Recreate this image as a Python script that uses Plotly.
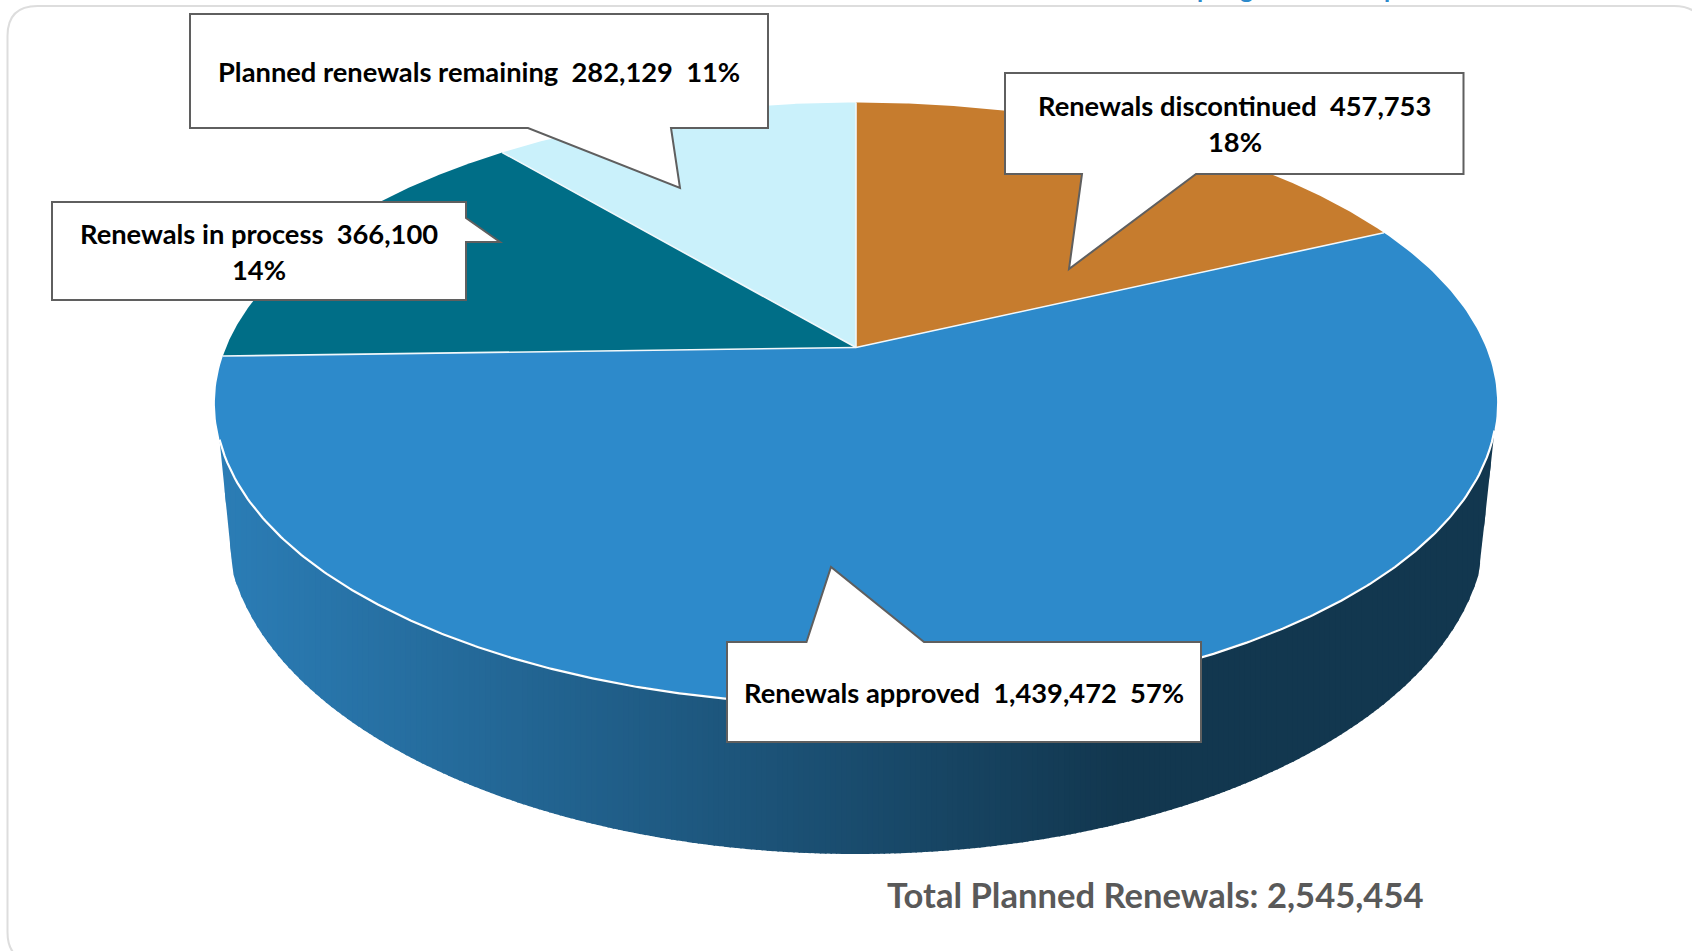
import numpy as np
import plotly.graph_objects as go

categories = ["Renewals discontinued", "Renewals approved", "Renewals in process", "Planned renewals remaining"]
values = [457753, 1439472, 366100, 282129]
percents = [18, 57, 14, 11]
colors = ["#C67C2E", "#2D8ACB", "#006E87", "#CAF1FB"]
total_label = "Total Planned Renewals: 2,545,454"
clipped_heading_letters = ["p", "g", "p"]   # only the descenders of the cut-off heading show

W, H = 1692, 951
CX, CY = 856.0, 347.5     # pie centre on the page
A, B, P = 630.0, 290.4, 0.1854  # perspective projection of the pie disc
ELL_CY, ELL_RX, ELL_RY = 404.0, 641.0, 301.0
BOT_CY, BOT_RX, BOT_RY = 524.0, 630.0, 330.0
WALL_L, WALL_R = 219.5, 1494.5
KNEE_L, KNEE_R = 233.0, 1479.0
WALL_LIGHT = np.array([43, 125, 182])
WALL_DARK = np.array([18, 55, 79])
GRAD_END = 1120.0
FONT = "Lato"
INK = "#5F5F5F"

def project(theta):
    d = 1 + P * np.cos(theta)
    return CX + A * np.sin(theta) / d, CY - B * np.cos(theta) / d

def top_lower(x):
    t = np.clip((x - CX) / ELL_RX, -1, 1)
    return ELL_CY + ELL_RY * np.sqrt(1 - t ** 2)

def wall_lower(x):
    x = np.asarray(x, float)
    t = np.clip((x - CX) / BOT_RX, -1, 1)
    y = BOT_CY + BOT_RY * np.sqrt(1 - t ** 2)
    yl = BOT_CY + BOT_RY * np.sqrt(1 - ((KNEE_L - CX) / BOT_RX) ** 2)
    yr = BOT_CY + BOT_RY * np.sqrt(1 - ((KNEE_R - CX) / BOT_RX) ** 2)
    y = np.where(x < KNEE_L, top_lower(WALL_L) + (yl - top_lower(WALL_L)) * (x - WALL_L) / (KNEE_L - WALL_L), y)
    y = np.where(x > KNEE_R, top_lower(WALL_R) + (yr - top_lower(WALL_R)) * (WALL_R - x) / (WALL_R - KNEE_R), y)
    return y

fig = go.Figure()

# side wall: thin vertical strips carry the horizontal gradient
edges = np.linspace(WALL_L, WALL_R, 241)
for x0, x1 in zip(edges[:-1], edges[1:]):
    xe = min(x1 + 1.5, WALL_R)
    xs = np.linspace(x0, xe, 5)
    t = np.clip(((x0 + x1) / 2 - WALL_L) / (GRAD_END - WALL_L), 0, 1)
    c = (WALL_LIGHT + (WALL_DARK - WALL_LIGHT) * t).round().astype(int)
    fig.add_trace(go.Scatter(
        x=np.r_[xs, xs[::-1]],
        y=np.r_[top_lower(xs) - 2, wall_lower(xs)[::-1]],
        mode="lines", fill="toself", line=dict(width=0),
        fillcolor=f"rgb({c[0]},{c[1]},{c[2]})",
        hoverinfo="skip", showlegend=False))

# top face: one wedge per category, sized by its value
fractions = np.cumsum([0] + values) / np.sum(values)
for i, cat in enumerate(categories):
    th = 2 * np.pi * np.linspace(fractions[i], fractions[i + 1], 240)
    px, py = project(th)
    fig.add_trace(go.Scatter(
        x=np.r_[CX, px, CX], y=np.r_[CY, py, CY],
        mode="lines", fill="toself", fillcolor=colors[i],
        line=dict(color=colors[i], width=0),
        name=cat, text=f"{cat}: {values[i]:,}", hoverinfo="text", showlegend=False))

# white spokes between the wedges
for f in fractions[:-1]:
    px, py = project(2 * np.pi * f)
    fig.add_trace(go.Scatter(x=[CX, px], y=[CY, py], mode="lines",
                             line=dict(color="#F2F8FB", width=1.6),
                             hoverinfo="skip", showlegend=False))

# white rim where the face meets the wall
rx = np.linspace(WALL_L, WALL_R, 500)
fig.add_trace(go.Scatter(x=rx, y=top_lower(rx), mode="lines",
                         line=dict(color="white", width=2.2),
                         hoverinfo="skip", showlegend=False))

def callout(pts):
    return "M " + " L ".join(f"{x},{y}" for x, y in pts) + " Z"

callouts = [
    [(190, 14), (768, 14), (768, 128), (671, 128), (680, 188), (528, 128), (190, 128)],
    [(52, 202), (466, 202), (466, 218), (500, 242), (466, 242), (466, 300), (52, 300)],
    [(1005, 73), (1463.5, 73), (1463.5, 174), (1196, 174), (1069, 269), (1082, 174), (1005, 174)],
    [(727, 642), (806.5, 642), (831, 567), (924, 642), (1201, 642), (1201, 742), (727, 742)],
]
shapes = [dict(type="path", path=callout(p), xref="x", yref="y", fillcolor="white",
               line=dict(color=INK, width=2), layer="above") for p in callouts]

# rounded card outline, partly running off the page
L, T, R, Bo, r = 7.5, 6, 1704, 962, 30
shapes.append(dict(type="path", xref="x", yref="y", layer="below",
                   path=f"M {L + r},{T} L {R - r},{T} Q {R},{T} {R},{T + r} L {R},{Bo - r} "
                        f"Q {R},{Bo} {R - r},{Bo} L {L + r},{Bo} Q {L},{Bo} {L},{Bo - r} "
                        f"L {L},{T + r} Q {L},{T} {L + r},{T} Z",
                   line=dict(color="#DDDDDD", width=2)))

label_lines = [
    (f"{categories[3]}  {values[3]:,}  {percents[3]}%", 478.5, 71),
    (f"{categories[2]}  {values[2]:,}", 259, 233),
    (f"{percents[2]}%", 259, 269),
    (f"{categories[0]}  {values[0]:,}", 1234.5, 105),
    (f"{percents[0]}%", 1234.5, 141),
    (f"{categories[1]}  {values[1]:,}  {percents[1]}%", 963.5, 692),
]
annotations = [dict(text=f"<b>{t}</b>", x=x, y=y, xref="x", yref="y", showarrow=False,
                    xanchor="center", yanchor="middle",
                    font=dict(family=FONT, size=27.3, color="black")) for t, x, y in label_lines]
annotations.append(dict(text=f"<b>{total_label}</b>", x=1155.5, y=894, xref="x", yref="y",
                        showarrow=False, xanchor="center", yanchor="middle",
                        font=dict(family=FONT, size=34.6, color="#595959")))
for letter, x in zip(clipped_heading_letters, [1204, 1246, 1391]):
    annotations.append(dict(text=f"<b>{letter}</b>", x=x, y=5, xref="x", yref="y", showarrow=False,
                            xanchor="center", yanchor="bottom",
                            font=dict(family=FONT, size=25, color="#2D8ACB")))

fig.update_layout(
    width=W, height=H, margin=dict(l=0, r=0, t=0, b=0),
    paper_bgcolor="white", plot_bgcolor="white", showlegend=False,
    xaxis=dict(range=[0, W], visible=False, fixedrange=True),
    yaxis=dict(range=[H, 0], visible=False, fixedrange=True),
    shapes=shapes, annotations=annotations,
)

fig.write_html("out.html", config=dict(displayModeBar=False),
               post_script="document.body.style.margin='0';document.documentElement.style.overflow='hidden';")
